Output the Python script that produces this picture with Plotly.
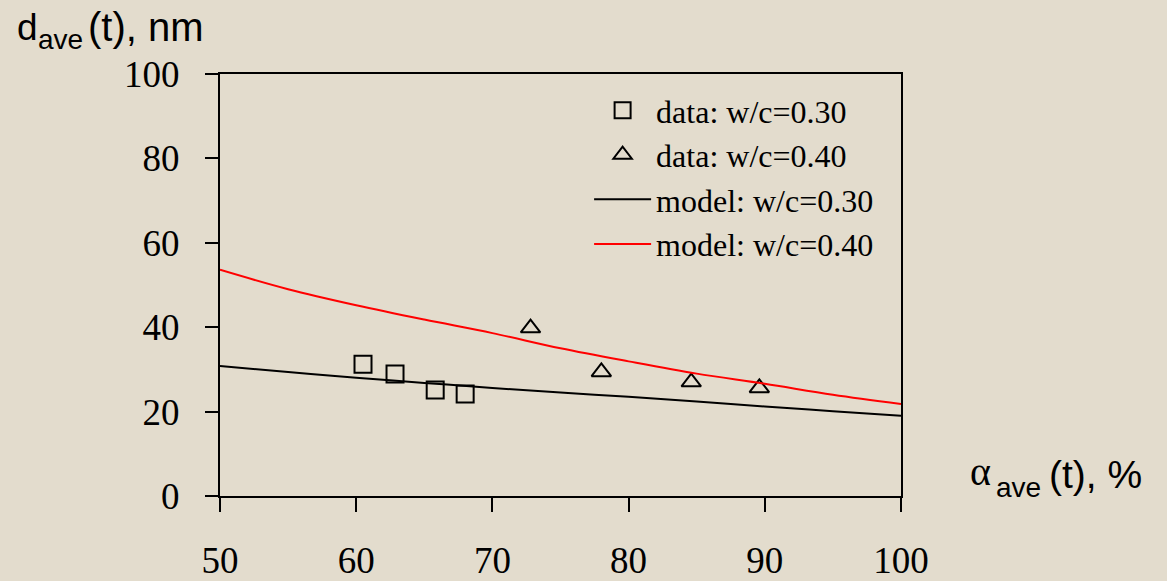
import plotly.graph_objects as go

# data
data30_x = [60.5, 62.85, 65.8, 68.0]
data30_y = [31.2, 28.9, 25.1, 24.2]
data40_x = [72.8, 78.0, 84.6, 89.6]
data40_y = [39.8, 29.4, 27.0, 25.6]
model_x = [50, 55, 60, 65, 70, 75, 80, 85, 90, 95, 100]
model30_y = [30.8, 29.4, 28.0, 26.8, 25.6, 24.5, 23.5, 22.4, 21.2, 20.1, 19.0]
model40_y = [53.6, 49.0, 45.2, 41.8, 38.6, 35.0, 31.9, 29.0, 26.6, 24.0, 21.8]

x_ticks = [50, 60, 70, 80, 90, 100]
y_ticks = [0, 20, 40, 60, 80, 100]

names = ["data: w/c=0.30", "data: w/c=0.40", "model: w/c=0.30", "model: w/c=0.40"]

bg = "#e3dccd"
serif = "Times New Roman"
sans = "Liberation Sans"


def ann(text, x, y, size, family=sans):
    return dict(text=text, xref="paper", yref="paper", x=x, y=y,
                xanchor="left", yanchor="middle", showarrow=False,
                font=dict(family=family, size=size, color="black"))


fig = go.Figure()
fig.add_trace(go.Scatter(x=data30_x, y=data30_y, mode="markers", name=names[0],
                         marker=dict(symbol="square-open", size=17, color="black",
                                     line=dict(width=2, color="black"))))
fig.add_trace(go.Scatter(x=data40_x, y=data40_y, mode="markers", name=names[1],
                         marker=dict(symbol="triangle-up-open", size=17, color="black",
                                     line=dict(width=2, color="black"))))
fig.add_trace(go.Scatter(x=model_x, y=model30_y, mode="lines", name=names[2],
                         line=dict(color="black", width=2, shape="spline")))
fig.add_trace(go.Scatter(x=model_x, y=model40_y, mode="lines", name=names[3],
                         line=dict(color="red", width=2, shape="spline")))

fig.update_layout(
    width=1167, height=581,
    margin=dict(l=220, r=266, t=74, b=85),
    paper_bgcolor=bg, plot_bgcolor=bg,
    font=dict(family=serif, color="black"),
    showlegend=True,
    legend=dict(x=0.542, y=0.979, xanchor="left", yanchor="top",
                bgcolor="rgba(0,0,0,0)", font=dict(family=serif, size=32, color="black"),
                itemwidth=57, tracegroupgap=0),
    xaxis=dict(range=[50, 100], tickvals=x_ticks,
               ticks="outside", ticklen=14,
               tickwidth=2, tickcolor="black", showline=True, linewidth=2,
               linecolor="black", mirror=True, showgrid=False, zeroline=False,
               tickfont=dict(family=serif, size=37, color="black"),
               ticklabelstandoff=17, automargin=False),
    yaxis=dict(range=[0, 100], tickvals=y_ticks, ticks="outside", ticklen=13,
               tickwidth=2, tickcolor="black", showline=True, linewidth=2,
               linecolor="black", mirror=True, showgrid=False, zeroline=False,
               tickfont=dict(family=serif, size=37, color="black"),
               ticklabelstandoff=18, automargin=False),
    annotations=[
        # y-axis title: d_ave(t), nm
        ann("d", -0.301, 1.111, 37),
        ann("ave", -0.2702, 1.0806, 28),
        ann("(t), nm", -0.1968, 1.111, 40),
        # x-axis title: alpha_ave(t), %
        ann("α", 1.0984, 0.0569, 40, serif),
        ann("ave", 1.1365, 0.019, 28),
        ann("(t), %", 1.2144, 0.052, 39),
    ],
)

fig.write_html("out.html", config={"displayModeBar": False},
               post_script="document.body.style.margin='0';")
